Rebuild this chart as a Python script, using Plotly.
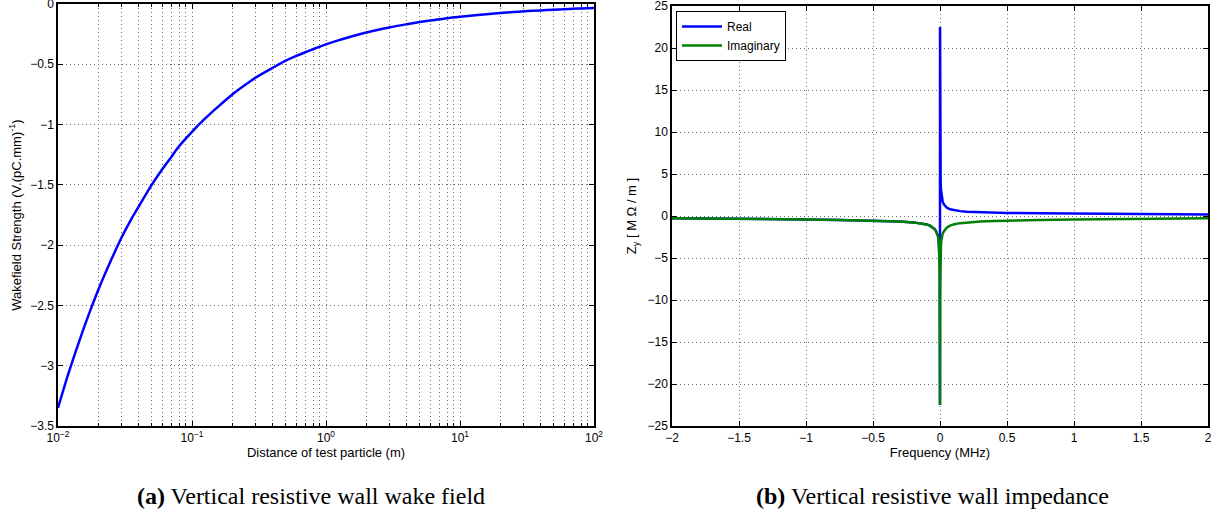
import plotly.graph_objects as go

# ---- Left panel data: wake field vs distance ----
distance_m = [0.01, 0.012, 0.015, 0.018, 0.02, 0.025, 0.03, 0.035, 0.04, 0.05, 0.06, 0.07,
              0.08, 0.1, 0.12, 0.15, 0.2, 0.25, 0.3, 0.4, 0.5, 0.6, 0.7, 0.8, 1.0, 1.2,
              1.5, 2.0, 2.5, 3.0, 4.0, 5.0, 6.0, 7.0, 8.0, 10.0, 12.0, 15.0, 20.0, 25.0,
              30.0, 40.0, 50.0, 60.0, 70.0, 80.0, 100.0]
wake_strength = [-3.35, -3.06, -2.74, -2.50, -2.37, -2.12, -1.93, -1.79, -1.68, -1.50,
                 -1.37, -1.27, -1.18, -1.06, -0.97, -0.87, -0.75, -0.67, -0.61, -0.53,
                 -0.47, -0.43, -0.40, -0.375, -0.335, -0.306, -0.274, -0.237, -0.212,
                 -0.193, -0.168, -0.150, -0.137, -0.127, -0.118, -0.106, -0.097, -0.087,
                 -0.075, -0.067, -0.061, -0.053, -0.047, -0.043, -0.040, -0.037, -0.034]

freq_pos_mhz = [0.00035, 0.0005, 0.0007, 0.001, 0.0015, 0.002, 0.003, 0.005, 0.007, 0.01,
                0.015, 0.02, 0.03, 0.04, 0.05, 0.075, 0.1, 0.15, 0.2, 0.3, 0.4, 0.5, 0.75,
                1.0, 1.25, 1.5, 1.75, 2.0]
real_pos = [22.5, 17.5, 14.0, 11.0, 8.5, 7.0, 5.4, 4.0, 3.2, 2.6, 2.0, 1.7, 1.35, 1.15,
            1.0, 0.8, 0.7, 0.58, 0.5, 0.43, 0.4, 0.37, 0.32, 0.28, 0.25, 0.22, 0.2, 0.18]
imag_pos = [-22.5, -17.5, -14.0, -11.0, -8.5, -7.0, -5.4, -4.2, -3.5, -2.9, -2.4, -2.1,
            -1.8, -1.55, -1.4, -1.15, -1.0, -0.85, -0.76, -0.66, -0.6, -0.55, -0.47,
            -0.41, -0.36, -0.32, -0.29, -0.27]

freq_mhz = [-f for f in reversed(freq_pos_mhz)] + freq_pos_mhz
z_real = list(reversed(imag_pos)) + real_pos
z_imag = list(reversed(imag_pos)) + imag_pos

left_xticks = [0.01, 0.1, 1, 10, 100]
left_xticktext = ["10<sup>−2</sup>", "10<sup>−1</sup>", "10<sup>0</sup>", "10<sup>1</sup>", "10<sup>2</sup>"]
left_minor = [m * d for d in [0.01, 0.1, 1, 10] for m in range(2, 10)]
left_yticks = [0, -0.5, -1, -1.5, -2, -2.5, -3, -3.5]
left_yticktext = ["0", "−0.5", "−1", "−1.5", "−2", "−2.5", "−3", "−3.5"]
right_xticks = [-2, -1.5, -1, -0.5, 0, 0.5, 1, 1.5, 2]
right_xticktext = ["−2", "−1.5", "−1", "−0.5", "0", "0.5", "1", "1.5", "2"]
right_yticks = [25, 20, 15, 10, 5, 0, -5, -10, -15, -20, -25]
right_yticktext = ["25", "20", "15", "10", "5", "0", "−5", "−10", "−15", "−20", "−25"]

W, H = 1225, 525
FONT = "Liberation Sans, Arial, sans-serif"
GRIDC = "#6e6e6e"
AX = dict(showline=True, linecolor="black", linewidth=1.5, mirror="allticks",
          ticks="inside", ticklen=5, tickcolor="black", zeroline=False, automargin=False,
          ticklabeloverflow="allow",
          tickfont=dict(family=FONT, size=12, color="black"),
          showgrid=True, gridcolor=GRIDC, gridwidth=1, griddash="1px,3px")

fig = go.Figure()
fig.add_trace(go.Scatter(x=distance_m, y=wake_strength, mode="lines",
                         line=dict(color="#0000ff", width=2.5, shape="spline", smoothing=0.8),
                         showlegend=False, xaxis="x", yaxis="y"))
fig.add_trace(go.Scatter(x=freq_mhz, y=z_real, mode="lines", name="Real",
                         line=dict(color="#0000ff", width=2.5), xaxis="x2", yaxis="y2"))
fig.add_trace(go.Scatter(x=freq_mhz, y=z_imag, mode="lines", name="Imaginary",
                         line=dict(color="#008000", width=2.5), xaxis="x2", yaxis="y2"))

fig.update_layout(
    width=W, height=H, margin=dict(l=0, r=0, t=0, b=0, autoexpand=False),
    paper_bgcolor="white", plot_bgcolor="white",
    font=dict(family=FONT, size=12, color="black"),
    xaxis=dict(domain=[58 / W, 594 / W], type="log", range=[-2, 2],
               tickvals=left_xticks, ticktext=left_xticktext,
               minor=dict(tickvals=left_minor, ticks="inside", ticklen=3, tickcolor="black",
                          showgrid=True, gridcolor=GRIDC, griddash="1px,3px"),
               title=dict(text="Distance of test particle (m)", font=dict(size=13), standoff=0),
               anchor="y", **AX),
    yaxis=dict(domain=[1 - 426 / H, 1 - 4 / H], range=[-3.5, 0], tickvals=left_yticks,
               ticktext=left_yticktext,
               title=dict(text="Wakefield Strength (V.(pC.mm)<sup>-1</sup>)",
                          font=dict(size=13), standoff=6),
               anchor="x", **AX),
    xaxis2=dict(domain=[672 / W, 1208 / W], range=[-2, 2], tickvals=right_xticks,
                ticktext=right_xticktext,
                title=dict(text="Frequency (MHz)", font=dict(size=13), standoff=0),
                anchor="y2", **AX),
    yaxis2=dict(domain=[1 - 426 / H, 1 - 6 / H], range=[-25, 25], tickvals=right_yticks,
                ticktext=right_yticktext,
                title=dict(text="Z<sub>y</sub> [ M Ω / m ]", font=dict(size=13), standoff=8),
                anchor="x2", **AX),
    legend=dict(x=676 / W, y=1 - 11 / H, xanchor="left", yanchor="top",
                bordercolor="black", borderwidth=1, bgcolor="white",
                font=dict(family=FONT, size=12), tracegroupgap=0, itemwidth=40),
)

CAP_FONT = dict(family="Liberation Serif, DejaVu Serif, serif", size=24, color="black")
fig.add_annotation(x=311 / W, y=1 - 496 / H, xref="paper", yref="paper", showarrow=False,
                   xanchor="center", yanchor="middle",
                   text="<b>(a)</b> Vertical resistive wall wake field", font=CAP_FONT)
fig.add_annotation(x=932 / W, y=1 - 496 / H, xref="paper", yref="paper", showarrow=False,
                   xanchor="center", yanchor="middle",
                   text="<b>(b)</b> Vertical resistive wall impedance", font=CAP_FONT)

fig.write_html("out.html")
